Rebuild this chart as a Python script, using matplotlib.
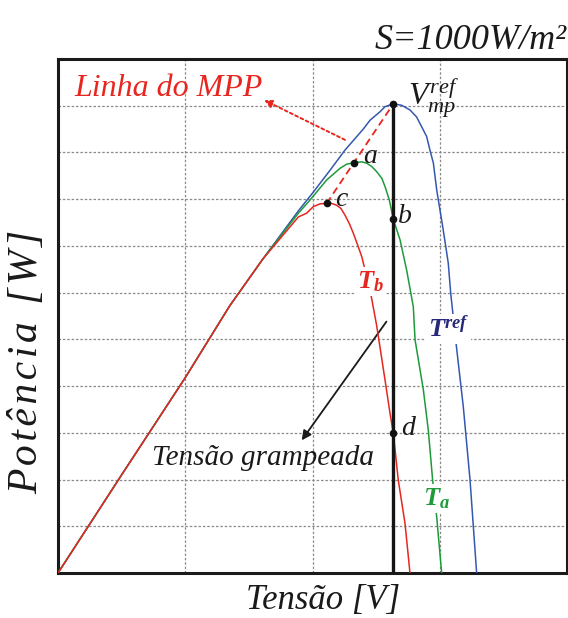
import matplotlib
matplotlib.use("Agg")
import matplotlib.pyplot as plt

plt.rcParams['font.family'] = ['Liberation Serif', 'DejaVu Serif']
plt.rcParams['mathtext.fontset'] = 'custom'
plt.rcParams['mathtext.it'] = 'Liberation Serif:italic'
plt.rcParams['mathtext.rm'] = 'Liberation Serif'
plt.rcParams['mathtext.bf'] = 'Liberation Serif:italic:bold'

# ---- data (arbitrary units, grid = 1 unit) ----
ref_v = [0, 0.5, 1.0, 1.35, 1.61, 1.889, 2.006, 2.138, 2.255, 2.399, 2.452, 2.53,
         2.57, 2.635, 2.70, 2.766, 2.818, 2.858, 2.897, 2.923, 2.95, 2.976, 3.028,
         3.067, 3.086, 3.128, 3.185, 3.238, 3.29]
ref_p = [0, 2.1, 4.18, 5.72, 6.72, 7.75, 8.15, 8.62, 9.05, 9.5, 9.69, 9.87,
         9.98, 10.04, 10.01, 9.91, 9.76, 9.55, 9.34, 9.05, 8.77, 8.2, 7.33,
         6.63, 5.99, 4.92, 3.56, 1.99, 0]

ta_v = [0, 0.5, 1.0, 1.35, 1.61, 1.889, 1.98, 2.111, 2.216, 2.269, 2.326, 2.386,
        2.426, 2.465, 2.504, 2.544, 2.57, 2.604, 2.635, 2.688, 2.74, 2.792, 2.806,
        2.871, 2.91, 2.944, 2.976, 3.015]
ta_p = [0, 2.1, 4.18, 5.72, 6.72, 7.70, 7.98, 8.41, 8.66, 8.75, 8.78, 8.80,
        8.77, 8.70, 8.59, 8.45, 8.27, 7.98, 7.57, 7.13, 6.48, 5.70, 4.99,
        3.92, 3.06, 1.99, 1.2, 0]

tb_v = [0, 0.5, 1.0, 1.35, 1.61, 1.889, 1.954, 2.006, 2.059, 2.111, 2.151, 2.19,
        2.224, 2.255, 2.289, 2.321, 2.352, 2.387, 2.452, 2.504, 2.57, 2.609,
        2.635, 2.674, 2.727, 2.766]
tb_p = [0, 2.1, 4.18, 5.72, 6.72, 7.62, 7.70, 7.84, 7.90, 7.91, 7.91, 7.87,
        7.80, 7.66, 7.48, 7.27, 7.04, 6.77, 6.06, 5.3, 4.13, 3.42,
        2.99, 1.99, 1.06, 0]

v_clamp = 2.635                      # clamped voltage V_mp^ref
mpp_v = [2.111, 2.326, 2.635]        # MPP points c, a, ref
mpp_p = [7.91, 8.78, 10.04]
pts = {'a': (2.326, 8.78), 'b': (2.635, 7.57), 'c': (2.111, 7.91), 'd': (2.635, 2.99)}

BLUE = '#3457b0'
GREEN = '#1f9a3a'
RED = '#e6261f'
NAVY = '#27287a'
INK = '#1a1a1a'

fig = plt.figure(figsize=(5.68, 6.18), dpi=100)
ax = fig.add_axes([58/568, 1-573/618, (567-58)/568, (573-59)/618])
ax.set_xlim(0, 4)
ax.set_ylim(0, 11)
ax.set_xticks([1, 2, 3])
ax.set_yticks(range(1, 11))
ax.tick_params(length=0, labelbottom=False, labelleft=False)
ax.grid(True, color='#8a8a8a', linestyle=(0, (2, 1.5)), linewidth=0.9)
for s in ax.spines.values():
    s.set_linewidth(2.2)
    s.set_color(INK)

ax.plot(ref_v, ref_p, color=BLUE, lw=1.1, zorder=3)
ax.plot(ta_v, ta_p, color=GREEN, lw=1.1, zorder=3)
ax.plot(tb_v, tb_p, color=RED, lw=1.1, zorder=4)

# MPP dashed line
ax.plot([mpp_v[0], mpp_v[-1]], [mpp_p[0], mpp_p[-1]], color=RED, lw=1.3,
        ls=(0, (4, 2.5)), zorder=4)
# clamped voltage
ax.plot([v_clamp, v_clamp], [0, mpp_p[-1]], color='#151515', lw=2.4, zorder=5)
# points
ax.plot([mpp_v[-1]] + [p[0] for p in pts.values()],
        [mpp_p[-1]] + [p[1] for p in pts.values()],
        'o', color='#111111', ms=4.5, zorder=6, clip_on=False)

lab = dict(fontsize=20, style='italic', color=INK, zorder=7)
ax.text(2.397, 8.92, 'a', va='center', ha='left', **lab)
ax.text(2.672, 7.62, 'b', va='center', ha='left', **lab)
ax.text(2.177, 8.0, 'c', va='center', ha='left', **lab)
ax.text(2.70, 3.10, 'd', va='center', ha='left', **lab)

white = dict(facecolor='white', edgecolor='none', pad=1.5)
ax.text(2.75, 10.0, r'$V_{mp}^{ref}$', fontsize=23, color=INK, va='baseline',
        ha='left', zorder=7)
ax.text(2.35, 6.1, r'$\mathbf{T_b}$', fontsize=19, color=RED, va='baseline',
        ha='left', zorder=7, bbox=white)
ax.text(2.865, 1.45, r'$\mathbf{T_a}$', fontsize=19, color=GREEN, va='baseline',
        ha='left', zorder=7, bbox=white)
ax.text(2.905, 5.05, r'$\mathbf{T^{ref}}$', fontsize=19, color=NAVY, va='baseline',
        ha='left', zorder=7, bbox=white)

ax.text(0.13, 10.36, 'Linha do MPP', fontsize=23, style='italic', color=RED,
        va='center', ha='left', zorder=7)
ax.annotate('', xy=(1.62, 10.12), xytext=(2.255, 9.27),
            arrowprops=dict(arrowstyle='-|>', color=RED, lw=1.4, ls=(0, (1.5, 1.5)),
                            mutation_scale=12, shrinkA=0, shrinkB=0))

ax.text(0.74, 2.46, 'Tensão grampeada', fontsize=21, style='italic', color=INK,
        va='center', ha='left', zorder=7)
ax.annotate('', xy=(1.915, 2.84), xytext=(2.581, 5.38),
            arrowprops=dict(arrowstyle='-|>', color=INK, lw=1.3,
                            mutation_scale=14, shrinkA=0, shrinkB=0))

fig.text(375/568, 1-49/618, 'S=1000W/m²', fontsize=26, style='italic',
         color=INK, va='baseline', ha='left')
fig.text(323/568, 1-600/618, 'Tensão [V]', fontsize=25, style='italic',
         color=INK, va='center', ha='center')
fig.text(27/568, 1-362/618, '\u200a'.join('Potência [W]'),
         fontsize=30, style='italic', color=INK, va='center', ha='center', rotation=90)

fig.savefig('out.png', dpi=100)
